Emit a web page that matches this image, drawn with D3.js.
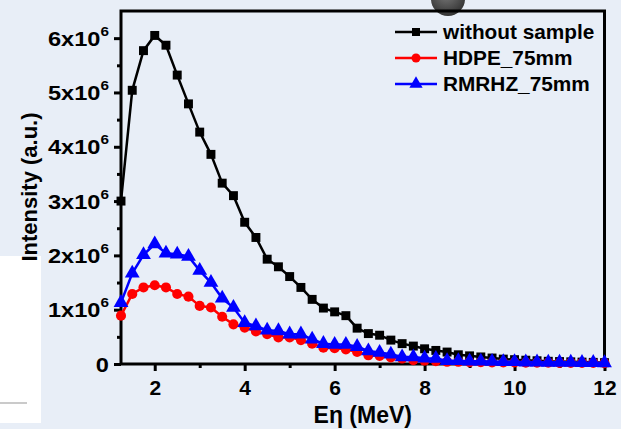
<!DOCTYPE html>
<html>
<head>
<meta charset="utf-8">
<script src="https://cdn.jsdelivr.net/npm/d3@7/dist/d3.min.js"></script>
<style>
  body { margin: 0; background: #e8eef7; }
  svg { display: block; font-family: "Liberation Sans", Arial, sans-serif; font-weight: bold; }
</style>
</head>
<body>
<svg id="chart" width="621" height="429"></svg>
<script>
// energy (MeV), intensity in units of 1e6 a.u.
const energy = [1.25, 1.5, 1.75, 2, 2.25, 2.5, 2.75, 3, 3.25, 3.5, 3.75, 4, 4.25, 4.5, 4.75, 5,
  5.25, 5.5, 5.75, 6, 6.25, 6.5, 6.75, 7, 7.25, 7.5, 7.75, 8, 8.25, 8.5, 8.75, 9,
  9.25, 9.5, 9.75, 10, 10.25, 10.5, 10.75, 11, 11.25, 11.5, 11.75, 12];

const withoutSample = [3.0, 5.04, 5.77, 6.05, 5.87, 5.32, 4.79, 4.27, 3.86, 3.33, 3.10, 2.61, 2.33, 1.93, 1.79, 1.61,
  1.41, 1.19, 1.03, 0.96, 0.89, 0.66, 0.56, 0.53, 0.44, 0.375, 0.33, 0.28, 0.25, 0.22, 0.17, 0.15,
  0.13, 0.11, 0.09, 0.08, 0.07, 0.06, 0.05, 0.045, 0.04, 0.035, 0.03, 0.025];

const hdpe = [0.89, 1.29, 1.41, 1.45, 1.41, 1.29, 1.24, 1.07, 1.04, 0.87, 0.73, 0.67, 0.60, 0.55, 0.49, 0.49,
  0.44, 0.375, 0.30, 0.29, 0.27, 0.22, 0.16, 0.15, 0.12, 0.10, 0.07, 0.06, 0.05, 0.04, 0.04, 0.035,
  0.035, 0.03, 0.03, 0.03, 0.025, 0.025, 0.025, 0.02, 0.02, 0.02, 0.02, 0.015];

const rmrhz = [1.13, 1.67, 2.01, 2.21, 2.04, 2.02, 1.98, 1.72, 1.50, 1.21, 1.04, 0.76, 0.70, 0.62, 0.61, 0.55,
  0.55, 0.455, 0.375, 0.36, 0.36, 0.32, 0.24, 0.21, 0.18, 0.13, 0.13, 0.105, 0.10, 0.06, 0.06, 0.05,
  0.05, 0.045, 0.04, 0.04, 0.035, 0.035, 0.03, 0.03, 0.03, 0.025, 0.025, 0.02];

const seriesNames = ['without sample', 'HDPE_75mm', 'RMRHZ_75mm'];
const xTicks = [2, 4, 6, 8, 10, 12];
const xMinorTicks = [3, 5, 7, 9, 11];
const yTicks = [0, 1, 2, 3, 4, 5, 6];
const yMinorTicks = [0.5, 1.5, 2.5, 3.5, 4.5, 5.5];

const svg = d3.select('#chart');
const plotLeft = 121, plotRight = 604.5, plotTop = 11, plotBottom = 364;

const x = d3.scaleLinear().domain([1.25, 12]).range([plotLeft, plotRight]);
const y = d3.scaleLinear().domain([0, 6.5]).range([plotBottom, plotTop]);

// background bits from the original slide
svg.append('rect').attr('width', 621).attr('height', 429).attr('fill', '#e8eef7');
svg.append('rect').attr('x', 0).attr('y', 256).attr('width', 41).attr('height', 167).attr('fill', '#ffffff');
svg.append('line').attr('x1', 0).attr('x2', 27).attr('y1', 403).attr('y2', 403)
  .attr('stroke', '#b8b8b8').attr('stroke-width', 1.5);

const grad = svg.append('defs').append('radialGradient').attr('id', 'ball')
  .attr('cx', '45%').attr('cy', '35%').attr('r', '65%');
grad.append('stop').attr('offset', '0%').attr('stop-color', '#7a7a7a');
grad.append('stop').attr('offset', '100%').attr('stop-color', '#333');
svg.append('circle').attr('cx', 448).attr('cy', -1).attr('r', 17).attr('fill', 'url(#ball)');

// axes
const xAxis = svg.append('g').attr('transform', `translate(0, ${plotBottom})`)
  .call(d3.axisBottom(x).tickValues(xTicks).tickSize(7).tickPadding(9).tickSizeOuter(0));
xAxis.selectAll('text').attr('font-size', 21).attr('fill', '#000').attr('font-family', null);
svg.append('g').attr('transform', `translate(0, ${plotBottom})`)
  .call(d3.axisBottom(x).tickValues(xMinorTicks).tickSize(4).tickFormat(''));

const yAxis = svg.append('g').attr('transform', `translate(${plotLeft}, 0)`)
  .call(d3.axisLeft(y).tickValues(yTicks).tickSize(7).tickPadding(6).tickSizeOuter(0).tickFormat(''));
svg.append('g').attr('transform', `translate(${plotLeft}, 0)`)
  .call(d3.axisLeft(y).tickValues(yMinorTicks).tickSize(4).tickFormat(''));

svg.selectAll('.domain').remove();
svg.selectAll('.tick line').attr('stroke', '#000').attr('stroke-width', 3);

yAxis.selectAll('.tick').each(function(d) {
  const g = d3.select(this).append('g').attr('transform', 'translate(-12, 7) scale(1.18, 1)');
  const t = g.append('text').attr('text-anchor', 'end').attr('font-size', 20).attr('fill', '#000');
  if (d === 0) {
    t.text('0');
  } else {
    t.append('tspan').text(`${d}x10`);
    t.append('tspan').attr('font-size', 13).attr('dy', -10).text('6');
  }
});

svg.append('rect').attr('x', plotLeft).attr('y', plotTop)
  .attr('width', plotRight - plotLeft).attr('height', plotBottom - plotTop)
  .attr('fill', 'none').attr('stroke', '#000').attr('stroke-width', 3);

// axis titles
svg.append('text').attr('x', (plotLeft + plotRight) / 2).attr('y', 423)
  .attr('text-anchor', 'middle').attr('font-size', 23).text('Eη (MeV)');
svg.append('text').attr('transform', 'translate(37, 187) rotate(-90)')
  .attr('text-anchor', 'middle').attr('font-size', 22).text('Intensity (a.u.)');

// series
const line = d3.line().x((d, i) => x(energy[i])).y(d => y(d));
const symbols = [d3.symbolSquare, d3.symbolCircle, d3.symbolTriangle];
const colors = ['#000000', '#ff0000', '#0000ff'];
const sizes = [80, 80, 95];
[withoutSample, hdpe, rmrhz].forEach((values, k) => {
  svg.append('path').datum(values).attr('d', line)
    .attr('fill', 'none').attr('stroke', colors[k]).attr('stroke-width', 2.5);
  svg.append('g').selectAll('path').data(values).enter().append('path')
    .attr('transform', (d, i) => `translate(${x(energy[i])}, ${y(d)})`)
    .attr('d', d3.symbol().type(symbols[k]).size(sizes[k]))
    .attr('fill', colors[k]);
});

// legend
const legend = svg.append('g');
seriesNames.forEach((name, k) => {
  const ly = 32 + k * 26;
  legend.append('line').attr('x1', 395).attr('x2', 437).attr('y1', ly).attr('y2', ly)
    .attr('stroke', colors[k]).attr('stroke-width', 2.5);
  legend.append('path').attr('transform', `translate(416, ${ly})`)
    .attr('d', d3.symbol().type(symbols[k]).size(sizes[k] * 0.8)).attr('fill', colors[k]);
  legend.append('text').attr('x', 443).attr('y', ly + 7).attr('font-size', 20.8).text(name);
});
</script>
</body>
</html>
